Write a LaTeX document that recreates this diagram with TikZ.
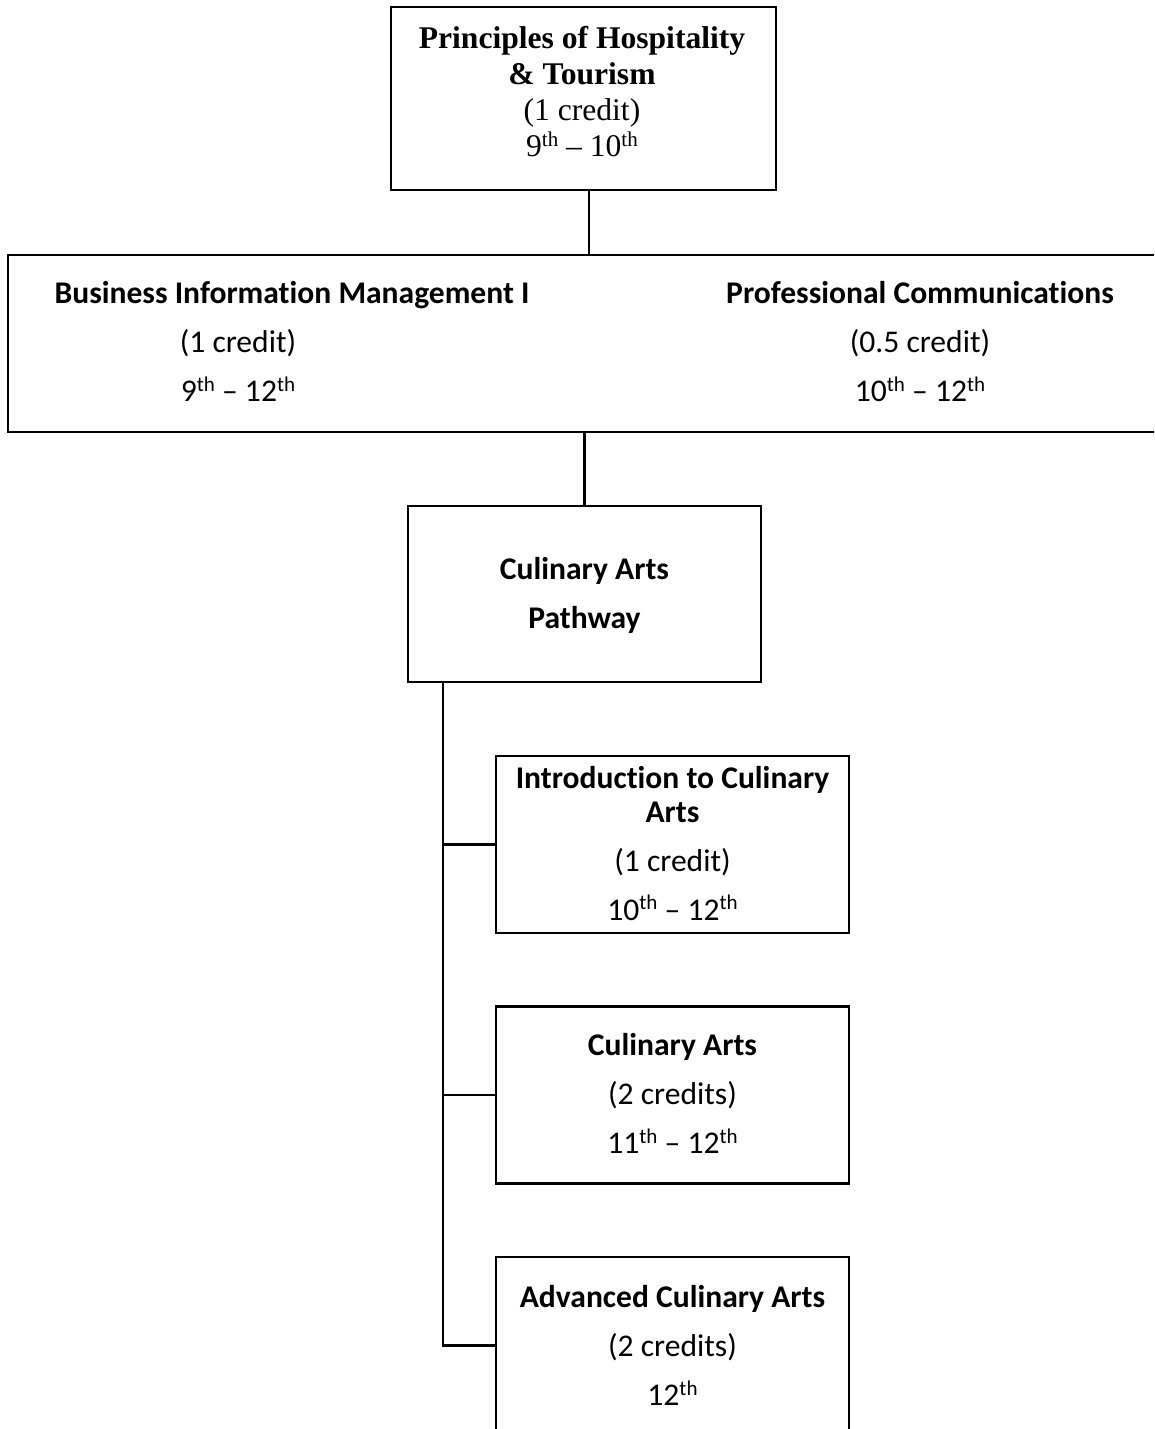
\documentclass[tikz,border=0pt]{standalone}
\usepackage{fontspec}
\setmainfont{Liberation Serif}
\newfontfamily\calibri[Ligatures={NoCommon}]{Carlito}
\usepackage{tikz}
\usetikzlibrary{positioning}
\tikzset{
    coursebox/.style = {
        rectangle,
        draw=black,
        line width=1pt,
        minimum width=134.1pt,
        minimum height=67.3pt,
        inner sep=0pt,
        outer sep=0pt
    },
    topbox/.style = {
        coursebox,
        line width=0.65pt,
        minimum width=146.3pt,
        minimum height=69.5pt
    },
    coursetext/.style = {
        align=center,
        anchor=north,
        inner sep=0pt,
        font=\calibri\fontsize{12}{12.8}\selectfont
    },
    toptext/.style = {
        coursetext,
        font=\fontsize{12}{13.7}\selectfont
    },
    link/.style = {
        line width=1pt
    }
}
\newcommand{\grade}[1]{#1\raisebox{4pt}{\fontsize{8}{8}\selectfont th}}

\begin{document}
\begin{tikzpicture}[x=0.38pt, y=-0.38pt]
    \clip (0,0) rectangle (1154,1429);
    % boxes
    \node [topbox] (hosp) at (583.5,98.5) {};
    \node [coursebox, minimum width=443.5pt] (core) at (591.5,343.5) {};
    \node [coursebox, minimum height=66.9pt] (path) at (584.5,594) {};
    \node [coursebox] (intro) at (672.5,844.5) {};
    \node [coursebox] (culin) at (672.5,1095) {};
    \node [coursebox] (adv) at (672.5,1345.5) {};
    % texts
    \node [toptext] (hosptext) at (582,26) {\textbf{Principles of Hospitality}\\ \textbf{\& Tourism}\\ (1 credit)\\ \grade{9} \textendash{} \grade{10}};
    \node [coursetext] (bimname) at (292,281) {\textbf{Business Information Management I}};
    \node [coursetext] (biminfo) at (238,329) {(1 credit)\\[5.8pt] \grade{9} \textendash{} \grade{12}};
    \node [coursetext] (comm) at (920,281) {\textbf{Professional Communications}\\[5.8pt] (0.5 credit)\\[5.8pt] \grade{10} \textendash{} \grade{12}};
    \node [coursetext] (pathtext) at (584.5,557) {\textbf{Culinary Arts}\\[5.8pt] \textbf{Pathway}};
    \node [coursetext] (introtext) at (672.5,766) {\textbf{Introduction to Culinary}\\ \textbf{Arts}\\[5.8pt] (1 credit)\\[5.8pt] \grade{10} \textendash{} \grade{12}};
    \node [coursetext] (culintext) at (672.5,1033) {\textbf{Culinary Arts}\\[5.8pt] (2 credits)\\[5.8pt] \grade{11} \textendash{} \grade{12}};
    \node [coursetext] (advtext) at (672.5,1285) {\textbf{Advanced Culinary Arts}\\[5.8pt] (2 credits)\\[5.8pt] \grade{12}};
    % connectors
    \coordinate (drop) at ([xshift=2.1pt]hosp.south);
    \draw [link, line width=0.65pt] (drop) -- (drop |- core.north);
    \draw [link] (path.north) -- (path.north |- core.south);
    \coordinate (trunk) at ([xshift=13.3pt]path.south west);
    \draw [link] (trunk) |- (adv.west);
    \foreach \course in {intro, culin} {
        \draw [link] (trunk |- \course.west) -- (\course.west);
    }
\end{tikzpicture}
\end{document}
